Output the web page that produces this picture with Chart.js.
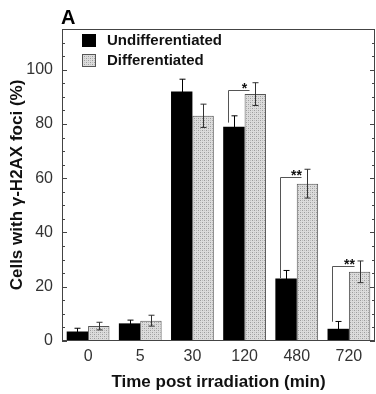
<!DOCTYPE html>
<html lang="en">
<head>
    <meta charset="UTF-8">
    <title>gamma-H2AX foci</title>
    <script src="https://cdn.jsdelivr.net/npm/chart.js"></script>
    <style>
        body { margin: 0; background: #fff; }
    </style>
</head>
<body>
    <canvas id="myChart" width="376" height="394"></canvas>

    <script>
        const timePoints = ['0', '5', '30', '120', '480', '720'];
        const undiffValues = [3.5, 6.5, 92, 79, 23, 4.5];
        const undiffErrors = [1.2, 1.2, 4.5, 4, 3, 2.7];
        const diffValues = [5.5, 7.5, 83, 91, 58, 25.5];
        const diffErrors = [1.4, 2, 4.3, 4.2, 5.3, 4];
        const yTicks = [0, 20, 40, 60, 80, 100];
        // significance brackets (value range of the vertical leg, label)
        const bracketLow = [null, null, null, 80.5, 23.2, 7.1];
        const bracketTop = [null, null, null, 92.6, 60.3, 27.7];
        const bracketLabels = ['', '', '', '*', '**', '**'];

        const FONT = '"Liberation Sans", Arial, Helvetica, sans-serif';

        // stippled grey fill
        function makePattern() {
            const c = document.createElement('canvas');
            c.width = 4; c.height = 4;
            const p = c.getContext('2d');
            p.fillStyle = '#dcdcdc';
            p.fillRect(0, 0, 4, 4);
            p.fillStyle = '#9c9c9c';
            p.fillRect(0, 0, 1, 1);
            p.fillRect(2, 2, 1, 1);
            p.fillStyle = '#bdbdbd';
            p.fillRect(2, 0, 1, 1);
            p.fillRect(0, 2, 1, 1);
            return document.getElementById('myChart').getContext('2d').createPattern(c, 'repeat');
        }
        const greyFill = makePattern();

        const extras = {
            id: 'extras',
            afterDatasetsDraw(chart) {
                const ctx = chart.ctx;
                const y = chart.scales.y;
                const area = chart.chartArea;
                const m0 = chart.getDatasetMeta(0);
                const m1 = chart.getDatasetMeta(1);

                // error bars
                const sets = [[m0, undiffValues, undiffErrors, '#000'], [m1, diffValues, diffErrors, '#333']];
                ctx.save();
                ctx.lineWidth = 1;
                sets.forEach(([meta, vals, errs, col]) => {
                    ctx.strokeStyle = col;
                    meta.data.forEach((bar, i) => {
                        const x = Math.round(bar.x) + 0.5;
                        const yt = y.getPixelForValue(vals[i] + errs[i]);
                        const yb = y.getPixelForValue(vals[i] - errs[i]);
                        ctx.beginPath();
                        ctx.moveTo(x, yt); ctx.lineTo(x, yb);
                        ctx.moveTo(x - 3, yt); ctx.lineTo(x + 3, yt);
                        ctx.moveTo(x - 3, yb); ctx.lineTo(x + 3, yb);
                        ctx.stroke();
                    });
                });

                // brackets
                ctx.strokeStyle = '#555';
                ctx.fillStyle = '#111';
                ctx.font = 'bold 14px ' + FONT;
                ctx.textAlign = 'center';
                ctx.textBaseline = 'alphabetic';
                timePoints.forEach((t, i) => {
                    if (bracketTop[i] == null) return;
                    const b0 = m0.data[i], b1 = m1.data[i];
                    const x1 = Math.round(b0.x - b0.width / 2 + 0.22 * b0.width) + 0.5;
                    const x2 = Math.round(b1.x - b1.width / 2 + 0.22 * b1.width) + 0.5;
                    const yt = Math.round(y.getPixelForValue(bracketTop[i])) + 0.5;
                    const yl = y.getPixelForValue(bracketLow[i]);
                    ctx.beginPath();
                    ctx.moveTo(x1, yl); ctx.lineTo(x1, yt); ctx.lineTo(x2, yt);
                    ctx.stroke();
                    ctx.fillText(bracketLabels[i], x2 - 5, yt + 2);
                });

                // frame
                ctx.strokeStyle = '#444';
                ctx.strokeRect(area.left + 0.5, area.top + 0.5, area.right - area.left - 1, area.bottom - area.top - 1);

                // inward ticks every 5
                for (let v = 0; v <= 115; v += 5) {
                    const py = Math.round(y.getPixelForValue(v)) + 0.5;
                    const len = v % 20 === 0 ? 5 : 3;
                    ctx.beginPath();
                    ctx.moveTo(area.left, py); ctx.lineTo(area.left + len, py);
                    ctx.moveTo(area.right, py); ctx.lineTo(area.right - len, py);
                    ctx.stroke();
                }

                // legend
                const lx = area.left + 20;
                ctx.fillStyle = '#000';
                ctx.fillRect(lx, 34, 14, 13);
                ctx.fillStyle = greyFill;
                ctx.fillRect(lx, 54, 14, 13);
                ctx.strokeStyle = '#555';
                ctx.strokeRect(lx + 0.5, 54.5, 13, 12);
                ctx.fillStyle = '#111';
                ctx.font = 'bold 15px ' + FONT;
                ctx.textAlign = 'left';
                ctx.textBaseline = 'middle';
                ctx.fillText('Undifferentiated', lx + 25, 41);
                ctx.fillText('Differentiated', lx + 25, 61);

                // panel letter
                ctx.font = 'bold 20px ' + FONT;
                ctx.textBaseline = 'alphabetic';
                ctx.fillStyle = '#000';
                ctx.fillText('A', 61, 24);
                ctx.restore();
            }
        };

        new Chart(document.getElementById('myChart'), {
            type: 'bar',
            data: {
                labels: timePoints,
                datasets: [{
                    label: 'Undifferentiated',
                    data: undiffValues,
                    backgroundColor: '#000',
                    borderColor: '#000',
                    borderWidth: 0,
                    barPercentage: 1,
                    categoryPercentage: 0.82
                }, {
                    label: 'Differentiated',
                    data: diffValues,
                    backgroundColor: greyFill,
                    borderColor: '#555',
                    borderWidth: 1,
                    borderSkipped: 'bottom',
                    barPercentage: 1,
                    categoryPercentage: 0.82
                }]
            },
            options: {
                responsive: false,
                animation: false,
                devicePixelRatio: 1,
                layout: { padding: { top: 29, right: 1, left: 0, bottom: 0 } },
                plugins: {
                    legend: { display: false },
                    tooltip: { enabled: false }
                },
                scales: {
                    x: {
                        offset: true,
                        grid: { display: false, drawTicks: false },
                        border: { display: false },
                        ticks: { color: '#333', padding: 6, font: { family: FONT, size: 16 } },
                        title: {
                            display: true,
                            text: 'Time post irradiation (min)',
                            color: '#111',
                            font: { family: FONT, size: 17, weight: 'bold' },
                            padding: { top: 0, bottom: 1 }
                        },
                        afterFit: s => { s.height = 53; }
                    },
                    y: {
                        min: 0,
                        max: 115,
                        grid: { display: false, drawTicks: false },
                        border: { display: false },
                        ticks: { color: '#333', padding: 9, font: { family: FONT, size: 16 } },
                        afterBuildTicks: s => { s.ticks = yTicks.map(v => ({ value: v })); },
                        title: {
                            display: true,
                            text: 'Cells with γ-H2AX foci (%)',
                            color: '#111',
                            font: { family: FONT, size: 17, weight: 'bold' },
                            padding: { top: 7, bottom: 0 }
                        },
                        afterFit: s => { s.width = 62; }
                    }
                }
            },
            plugins: [extras]
        });
    </script>
</body>
</html>
